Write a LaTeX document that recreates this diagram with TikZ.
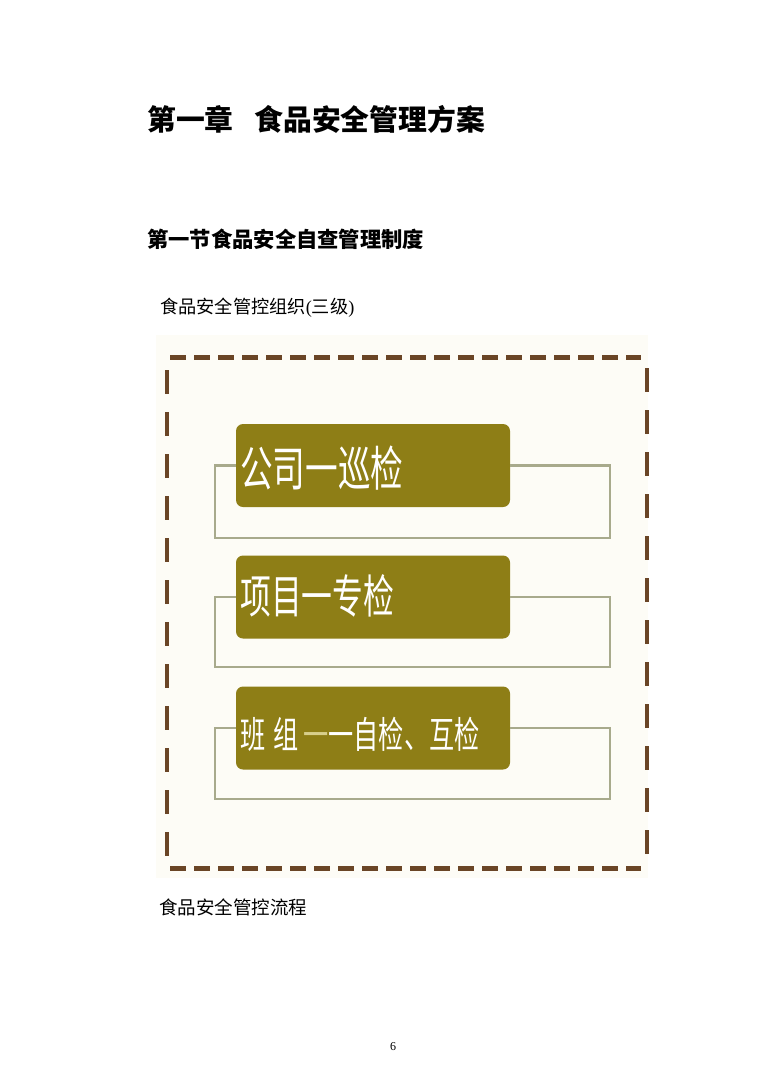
\documentclass[tikz,border=0pt]{standalone}
\usepackage{fontspec}
\setmainfont{Liberation Serif}
\newfontfamily\cjk{Noto Sans CJK SC}
\definecolor{olivebox}{HTML}{8E7E16}
\definecolor{bracket}{HTML}{A8AA8C}
\definecolor{dashbrown}{HTML}{6A4526}
\definecolor{panelbg}{HTML}{FDFCF6}
\definecolor{faintdash}{HTML}{D8CF8C}
\tikzset{
  levelbox/.style={draw=none, fill=olivebox, rounded corners=7pt, minimum width=274pt, minimum height=83pt, inner sep=0pt},
  boxtext/.style={anchor=west, inner sep=0pt, text=white},
  bracketline/.style={draw=bracket, line width=2.4pt},
  hdash/.style={draw=dashbrown, line width=5pt, dash pattern=on 16pt off 8pt},
  vdash/.style={draw=dashbrown, line width=4.5pt, dash pattern=on 24pt off 18pt},
  plaintext/.style={anchor=west, inner sep=0pt}
}
\begin{document}
\begin{tikzpicture}[x=1pt,y=-1pt]
\useasboundingbox (0,0) rectangle (761,1077);
\fill[white] (0,0) rectangle (761,1077);
% headings
\node[plaintext] (title) at (147,119) {\cjk\bfseries\fontsize{28.8}{30}\selectfont 第一章\hspace{21pt}食品安全管理方案};
\node[plaintext] (section) at (147,239) {\cjk\bfseries\fontsize{21.3}{23}\selectfont 第一节食品安全自查管理制度};
\node[plaintext] (caption1) at (160,308) {\cjk\fontsize{18.2}{20}\selectfont 食品安全管控组织{\rmfamily(}三级{\rmfamily)}};
\node[plaintext] (caption2) at (159,907) {\cjk\fontsize{18.5}{20}\selectfont 食品安全管控流程};
\node[inner sep=0pt] (pagenum) at (393,1047) {\fontsize{12}{14}\selectfont 6};
% panel
\fill[panelbg] (156,335) rectangle (648,878);
\draw[hdash] (170,357) -- (641,357);
\draw[hdash] (170,868) -- (641,868);
\draw[vdash] (167,370) -- (167,866);
\draw[vdash] (647,368) -- (647,866);
% boxes
\node[levelbox] (b1) at (373,465.5) {};
\node[levelbox] (b2) at (373,597) {};
\node[levelbox] (b3) at (373,728) {};
% bracket corners
\coordinate (b1a) at (215,465.5);
\coordinate (b1b) at (215,538);
\coordinate (b1c) at (610,538);
\coordinate (b1d) at (610,465.5);
\coordinate (b2a) at (215,597);
\coordinate (b2b) at (215,667);
\coordinate (b2c) at (610,667);
\coordinate (b2d) at (610,597);
\coordinate (b3a) at (215,728);
\coordinate (b3b) at (215,799);
\coordinate (b3c) at (610,799);
\coordinate (b3d) at (610,728);
\draw[bracketline] (b1.west) -- (b1a) -- (b1b) -- (b1c) -- (b1d) -- (b1.east);
\draw[bracketline] (b2.west) -- (b2a) -- (b2b) -- (b2c) -- (b2d) -- (b2.east);
\draw[bracketline] (b3.west) -- (b3a) -- (b3b) -- (b3c) -- (b3d) -- (b3.east);
% box labels
\node[boxtext] (t1) at (240,468) {\cjk\fontsize{48}{50}\selectfont\scalebox{0.68}[1]{公司一巡检}};
\node[boxtext] (t2) at (240,596) {\cjk\fontsize{46}{48}\selectfont\scalebox{0.67}[1]{项目一专检}};
\node[boxtext] (t3) at (240,734) {\cjk\fontsize{37}{39}\selectfont\scalebox{0.68}[1]{班\hspace{12pt}组\hspace{7pt}{\color{faintdash}一}一自检、互检}};
\end{tikzpicture}
\end{document}
